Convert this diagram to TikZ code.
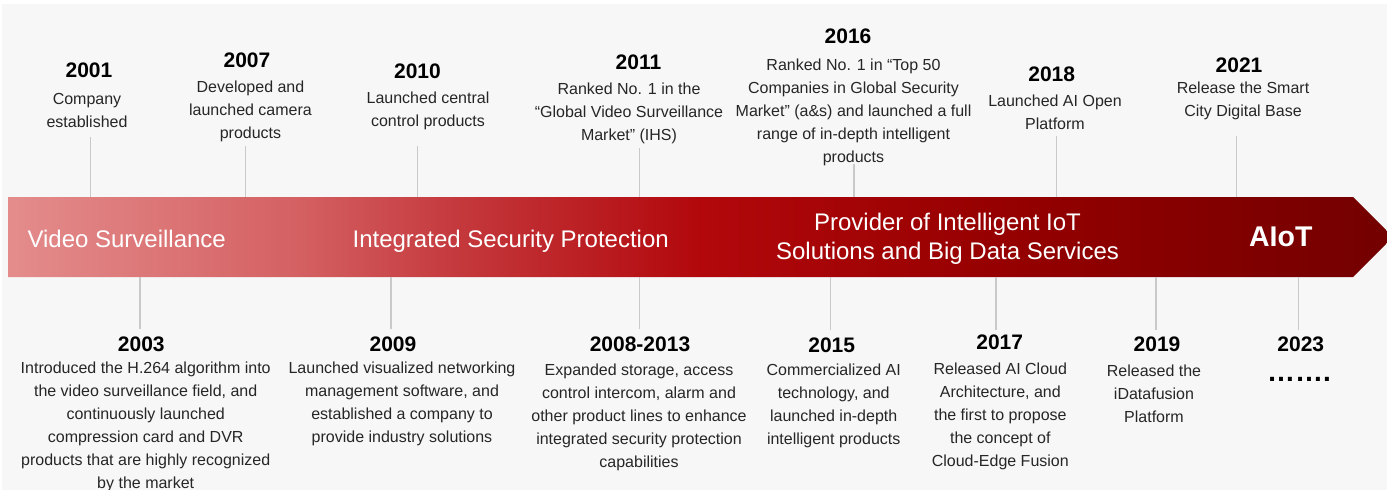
\documentclass[tikz,border=0pt]{standalone}
\usepackage{fontspec}
\setmainfont{Liberation Sans}
\definecolor{bgc}{HTML}{F7F7F7}
\definecolor{txt}{HTML}{262626}
\definecolor{lineg}{HTML}{C9C9C9}
\definecolor{ca}{RGB}{228,140,140}
\definecolor{cb}{RGB}{212,96,98}
\definecolor{cc}{RGB}{196,56,60}
\definecolor{cd}{RGB}{178,8,12}
\definecolor{ce}{RGB}{150,0,0}
\definecolor{cf}{RGB}{115,0,0}
\pgfdeclarehorizontalshading{bandshade}{100bp}{color(0bp)=(ca); color(25bp)=(ca); color(35.54bp)=(cb); color(41.32bp)=(cc); color(49.98bp)=(cd); color(60.81bp)=(ce); color(75bp)=(cf); color(100bp)=(cf)}
\tikzset{
  desc/.style={anchor=north, inner sep=0pt, align=center, text=txt,
    font=\fontsize{16}{23}\selectfont},
  yr/.style={anchor=base, inner sep=0pt, text=black,
    font=\bfseries\fontsize{21}{24}\selectfont},
  conn/.style={draw=lineg, line width=1.3pt},
  bandlbl/.style={anchor=base, inner sep=0pt, text=white,
    font=\fontsize{24}{29.3}\selectfont},
  bandlbltwo/.style={anchor=north, inner sep=0pt, align=center, text=white,
    font=\fontsize{24}{29.3}\selectfont},
}
\newcommand{\fl}{\rule{0pt}{13pt}}
\newcommand{\flb}{\rule{0pt}{18pt}}
\begin{document}
\begin{tikzpicture}[x=1pt,y=-1pt]
\useasboundingbox (0,0) rectangle (1387,490);
\begin{scope}
\clip (0,0) rectangle (1387,490);
\fill[white] (0,0) rectangle (1387,490);
\fill[bgc] (2,4) rectangle (1387,490);
% band
\path[shading=bandshade] (8,197) -- (1353,197) -- (1393,237) -- (1353,277) -- (8,277) -- cycle;
\end{scope}

% band labels
\node[bandlbl] (lv) at (126.7,247.7) {Video Surveillance};
\node[bandlbl] (li) at (510.7,247.7) {Integrated Security Protection};
\node[bandlbltwo] (lp) at (947.5,212) {\flb Provider of Intelligent IoT\\Solutions and Big Data Services};
\node[bandlbl, font=\bfseries\fontsize{28.5}{32}\selectfont] (la) at (1280.8,246.7) {AIoT};

% connectors (top)
\coordinate (a2001) at (90.7,137);  \coordinate (b2001) at (90.7,197);
\coordinate (a2007) at (245.7,146); \coordinate (b2007) at (245.7,197);
\coordinate (a2010) at (417.3,146); \coordinate (b2010) at (417.3,197);
\coordinate (a2011) at (639.3,148); \coordinate (b2011) at (639.3,197);
\coordinate (a2016) at (854,164);   \coordinate (b2016) at (854,197);
\coordinate (a2018) at (1056.3,136); \coordinate (b2018) at (1056.3,197);
\coordinate (a2021) at (1236.7,136); \coordinate (b2021) at (1236.7,197);
% connectors (bottom)
\coordinate (a2003) at (140,277);   \coordinate (b2003) at (140,329);
\coordinate (a2009) at (391,277);   \coordinate (b2009) at (391,329);
\coordinate (a2008) at (639.3,277); \coordinate (b2008) at (639.3,329);
\coordinate (a2015) at (830.7,277); \coordinate (b2015) at (830.7,330);
\coordinate (a2017) at (996,277);   \coordinate (b2017) at (996,330);
\coordinate (a2019) at (1156,277);  \coordinate (b2019) at (1156,330);
\coordinate (a2023) at (1298.3,277); \coordinate (b2023) at (1298.3,330);
\foreach \k in {2001,2007,2010,2011,2016,2018,2021,2003,2009,2008,2015,2017,2019,2023}
  \draw[conn] (a\k) -- (b\k);

% top items
\node[yr] (y2001) at (89,77.3) {2001};
\node[desc] (d2001) at (87,91) {\fl Company\\established};
\node[yr] (y2007) at (247,67.3) {2007};
\node[desc] (d2007) at (250.5,79.7) {\fl Developed and\\launched camera\\products};
\node[yr] (y2010) at (417.5,78.3) {2010};
\node[desc] (d2010) at (428,90.3) {\fl Launched central\\control products};
\node[yr] (y2011) at (638.5,69) {2011};
\node[desc] (d2011) at (629,81.3) {\fl Ranked No. 1 in the\\“Global Video Surveillance\\Market” (IHS)};
\node[yr] (y2016) at (848,43.3) {2016};
\node[desc] (d2016) at (853.5,57) {\fl Ranked No. 1 in “Top 50\\Companies in Global Security\\Market” (a\&s) and launched a full\\range of in-depth intelligent\\products};
\node[yr] (y2018) at (1051.7,81) {2018};
\node[desc] (d2018) at (1055,93) {\fl Launched AI Open\\Platform};
\node[yr] (y2021) at (1239,72.3) {2021};
\node[desc] (d2021) at (1243,80.3) {\fl Release the Smart\\City Digital Base};

% bottom items
\node[yr] (y2003) at (141.3,351) {2003};
\node[desc] (d2003) at (145.7,360.5) {\fl Introduced the H.264 algorithm into\\the video surveillance field, and\\continuously launched\\compression card and DVR\\products that are highly recognized\\by the market};
\node[yr] (y2009) at (393,351) {2009};
\node[desc] (d2009) at (402,360.5) {\fl Launched visualized networking\\management software, and\\established a company to\\provide industry solutions};
\node[yr] (y2008) at (640,351) {2008-2013};
\node[desc] (d2008) at (639,362) {\fl Expanded storage, access\\control intercom, alarm and\\other product lines to enhance\\integrated security protection\\capabilities};
\node[yr] (y2015) at (831.7,352) {2015};
\node[desc] (d2015) at (833.7,362.5) {\fl Commercialized AI\\technology, and\\launched in-depth\\intelligent products};
\node[yr] (y2017) at (999.7,349.5) {2017};
\node[desc] (d2017) at (1000.3,361.5) {\fl Released AI Cloud\\Architecture, and\\the first to propose\\the concept of\\Cloud-Edge Fusion};
\node[yr] (y2019) at (1157,351) {2019};
\node[desc] (d2019) at (1154,363) {\fl Released the\\iDatafusion\\Platform};
\node[yr] (y2023) at (1300.8,351.5) {2023};
\node[anchor=base, inner sep=0pt, text=black, font=\bfseries\fontsize{28}{30}\selectfont] (d2023) at (1299,381) {…….};
\end{tikzpicture}
\end{document}
